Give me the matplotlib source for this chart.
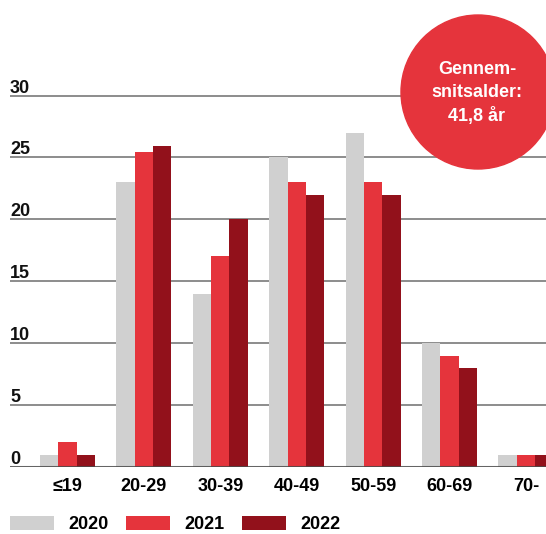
import matplotlib
matplotlib.use("Agg")
import matplotlib.pyplot as plt
import matplotlib.transforms as mtrans
from matplotlib.patches import Circle
import numpy as np

plt.rcParams['font.family'] = ['Liberation Sans', 'DejaVu Sans']
plt.rcParams['font.weight'] = 'bold'

# age groups and share of employees per year
groups = ['≤19', '20-29', '30-39', '40-49', '50-59', '60-69', '70-']
years = ['2020', '2021', '2022']
v2020 = [1, 23, 14, 25, 27, 10, 1]
v2021 = [2, 25.4, 17, 23, 23, 9, 1]
v2022 = [1, 25.9, 20, 22, 22, 8, 1]
yticks = [0, 5, 10, 15, 20, 25, 30]
avg_label = 'Gennem-\nsnitsalder:\n41,8 år'

colors = ['#d0d0d0', '#e5343c', '#92111b']

W, H = 546, 534
fig = plt.figure(figsize=(W / 100, H / 100), dpi=100)
ax = fig.add_axes([10 / W, (H - 467) / H, 536 / W, 467 / H])

x = np.arange(len(groups))
bw = 0.24
bars = []
for k, vals in enumerate([v2020, v2021, v2022]):
    b = ax.bar(x + (k - 1) * bw, vals, width=bw, color=colors[k],
               label=years[k], zorder=2)
    bars.append(b)

ax.set_xlim(-0.753, 6.263)
ax.set_ylim(0, 467 / 12.383)

# gridlines with labels sitting on top of them
for t in yticks[1:]:
    ax.axhline(t, color='#6e6e6e', lw=1.1, zorder=1)
ax.axhline(0, color='#4a4a4a', lw=2.2, alpha=0.85, zorder=3)
lab_tr = mtrans.offset_copy(mtrans.blended_transform_factory(ax.transAxes, ax.transData),
                            fig=fig, x=0, y=3, units='dots')
for t in yticks:
    ax.text(0, t, str(t), transform=lab_tr, ha='left', va='baseline',
            fontsize=13, fontweight='bold', color='#111111')

ax.set_xticks(x, groups)
ax.tick_params(axis='x', length=0, pad=8, labelsize=13)
ax.set_yticks([])
for s in ax.spines.values():
    s.set_visible(False)

leg = fig.legend(handles=bars, labels=years, loc='lower left', ncol=3,
                 bbox_to_anchor=(10 / W, 1 / H), frameon=False, fontsize=13,
                 handlelength=2.45, handleheight=0.85, handletextpad=0.8,
                 columnspacing=0.95, borderpad=0, borderaxespad=0)

# average age badge
badge = Circle((478, H - 92), 77, transform=mtrans.IdentityTransform(),
               color='#e5343c', zorder=10)
fig.add_artist(badge)
fig.text(477 / W, (H - 93) / H, avg_label, ha='center', va='center',
         color='white', fontsize=13, fontweight='bold', linespacing=1.45,
         zorder=11)

fig.savefig('out.png', dpi=100)
